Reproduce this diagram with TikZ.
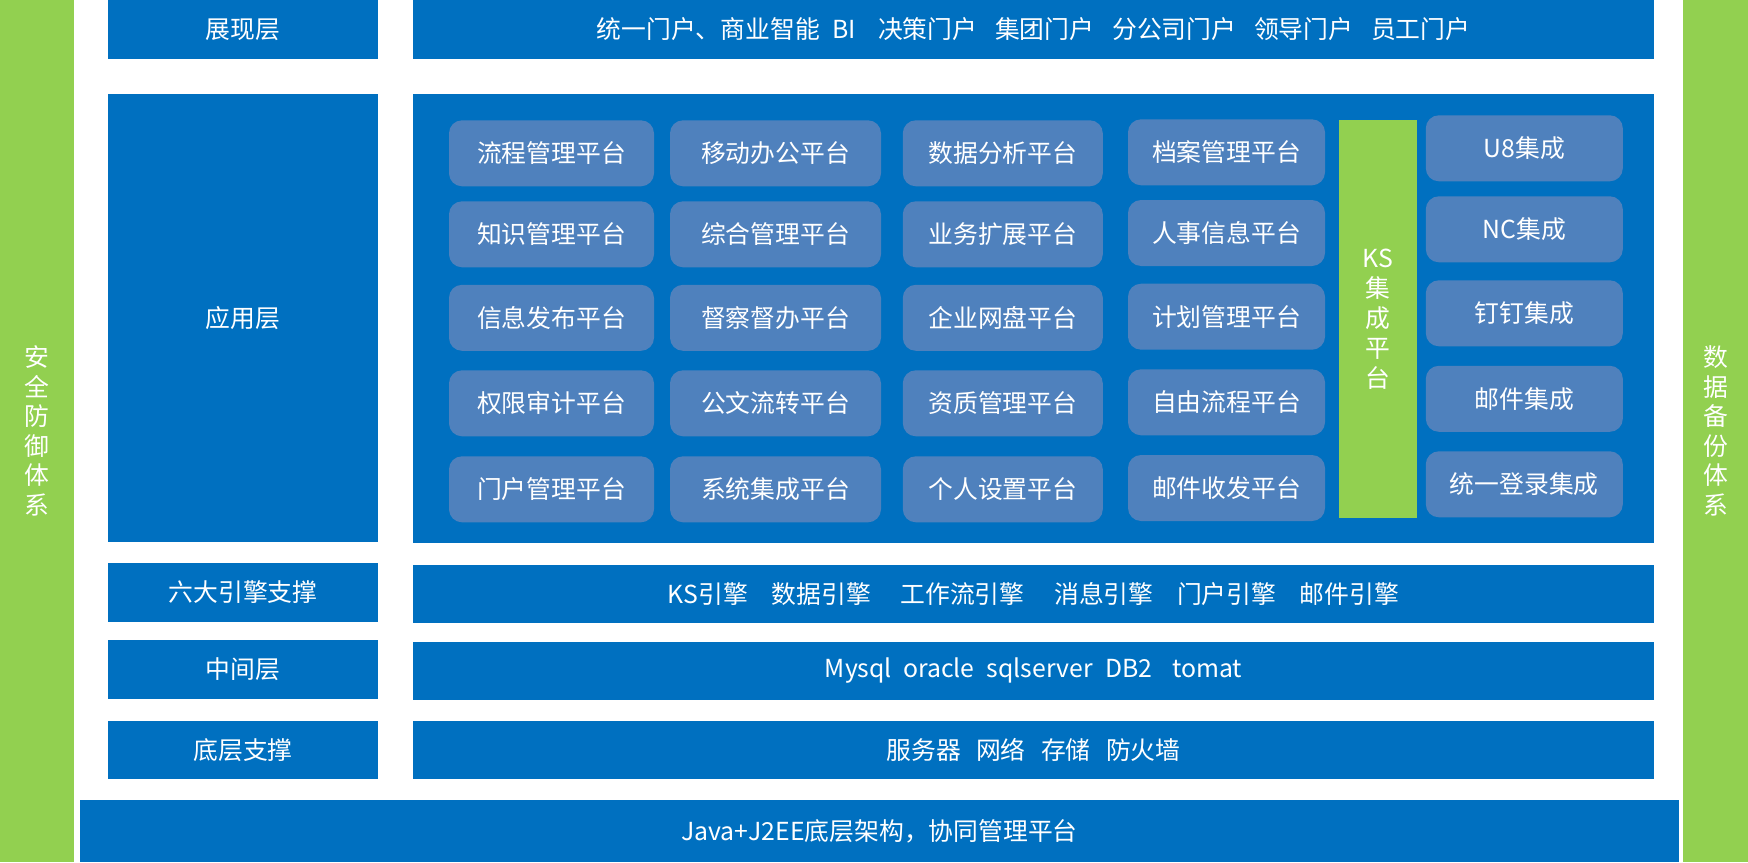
\documentclass[tikz,border=0pt]{standalone}
\usepackage{fontspec}
\setmainfont{Noto Sans CJK SC}
\usepackage{tikz}
\definecolor{layerblue}{RGB}{0,112,192}
\definecolor{sidegreen}{RGB}{146,208,80}
\definecolor{platblue}{RGB}{79,129,189}
\tikzset{
  block/.style={fill=layerblue, text=white, inner sep=0pt, font=\fontsize{24.8}{30}\selectfont},
  platform/.style={fill=platblue, text=white, rounded corners=13pt, inner sep=0pt, minimum height=66pt, font=\fontsize{24.8}{30}\selectfont},
  sidebar/.style={fill=sidegreen, text=white, inner sep=0pt, align=center, font=\fontsize{24.8}{29.5}\selectfont}
}

\begin{document}
\begin{tikzpicture}[x=1pt,y=-1pt]
  \useasboundingbox (0,0) rectangle (1748,862);
  % side bars
  \node[sidebar, minimum width=74pt, minimum height=862pt] (safety) at (37,431) {安\\全\\防\\御\\体\\系};
  \node[sidebar, minimum width=65pt, minimum height=862pt] (backup) at (1715.5,431) {数\\据\\备\\份\\体\\系};
  % layer names
  \foreach \y/\h/\lab/\txt in {
    29.35/58.7/show/展现层,
    317.85/447.7/app/应用层,
    592.35/58.7/engine/六大引擎支撑,
    669.35/58.7/mid/中间层,
    749.85/57.7/base/底层支撑%
  } {
    \node[block, minimum width=270pt, minimum height=\h pt] (\lab) at (243,\y) {\txt};
  }
  % layer contents
  \foreach \y/\h/\lab/\txt in {
    29.35/58.7/showR/{统一门户、商业智能\hspace{.5em}BI\hspace{.9em}决策门户\hspace{.72em}集团门户\hspace{.72em}分公司门户\hspace{.72em}领导门户\hspace{.72em}员工门户},
    318.35/448.7/appR/{},
    593.85/57.7/engineR/{KS引擎\hspace{.95em}数据引擎\hspace{1.2em}工作流引擎\hspace{1.2em}消息引擎\hspace{.95em}门户引擎\hspace{.95em}邮件引擎},
    670.85/57.7/midR/{Mysql\hspace{.45em}oracle\hspace{.5em}sqlserver\hspace{.5em}DB2\hspace{.8em}tomat},
    749.85/57.7/baseR/{服务器\hspace{.62em}网络\hspace{.62em}存储\hspace{.62em}防火墙}%
  } {
    \node[block, minimum width=1241pt, minimum height=\h pt] (\lab) at (1033.5,\y) {\txt};
  }
  \node[block, minimum width=1599pt, minimum height=62pt] (java) at (879.5,831) {Java+J2EE底层架构，协同管理平台};
  % platforms
  \foreach \x/\y/\w/\lab/\txt in {
    551.5/153.3/205/p1/流程管理平台,
    551.5/234.3/205/p2/知识管理平台,
    551.5/317.8/205/p3/信息发布平台,
    551.5/403.3/205/p4/权限审计平台,
    551.5/489.3/205/p5/门户管理平台,
    775.5/153.3/211/p6/移动办公平台,
    775.5/234.3/211/p7/综合管理平台,
    775.5/317.8/211/p8/督察督办平台,
    775.5/403.3/211/p9/公文流转平台,
    775.5/489.3/211/p10/系统集成平台,
    1002.8/153.3/200/p11/数据分析平台,
    1002.8/234.3/200/p12/业务扩展平台,
    1002.8/317.8/200/p13/企业网盘平台,
    1002.8/403.3/200/p14/资质管理平台,
    1002.8/489.3/200/p15/个人设置平台,
    1226.5/152.3/197/p16/档案管理平台,
    1226.5/233.0/197/p17/人事信息平台,
    1226.5/316.7/197/p18/计划管理平台,
    1226.5/402.3/197/p19/自由流程平台,
    1226.5/488.0/197/p20/邮件收发平台,
    1524.3/148.3/197/i1/U8集成,
    1524.3/229.3/197/i2/NC集成,
    1524.3/313.3/197/i3/钉钉集成,
    1524.3/398.8/197/i4/邮件集成,
    1524.3/484.3/197/i5/统一登录集成%
  } {
    \node[platform, minimum width=\w pt] (\lab) at (\x,\y) {\txt};
  }
  \node[sidebar, minimum width=78pt, minimum height=397.7pt, font=\fontsize{24.8}{30}\selectfont] (ks) at (1378,318.85) {KS\\集\\成\\平\\台};
\end{tikzpicture}
\end{document}
